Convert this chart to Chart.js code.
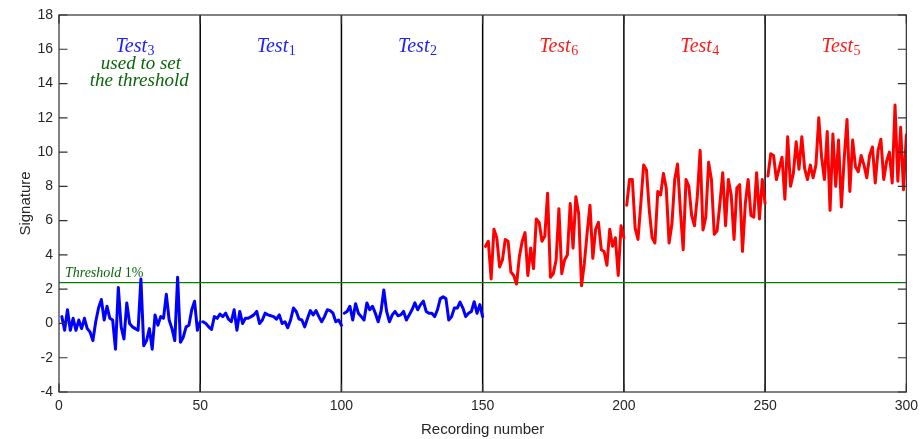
<!DOCTYPE html>
<html>
<head>
<meta charset="utf-8">
<script src="https://cdn.jsdelivr.net/npm/chart.js@4.4.1/dist/chart.umd.min.js"></script>
<style>
  html, body { margin: 0; padding: 0; background: #fff; }
  canvas { display: block; }
</style>
</head>
<body>
<canvas id="c" width="924" height="439"></canvas>
<script>
// ---------------- data ----------------
const xTicks = [0, 50, 100, 150, 200, 250, 300];
const yTicks = [-4, -2, 0, 2, 4, 6, 8, 10, 12, 14, 16, 18];
const separators = [50, 100, 150, 200, 250];
const threshold = 2.38;

const test3 = [0.4, -0.4, 0.8, -0.4, 0.3, -0.4, 0.2, -0.3, 0.3, -0.3,
  -0.5, -1.0, 0.1, 0.9, 1.4, 0.2, 1.0, 0.3, 0.2, -1.5,
  2.1, -0.2, -0.9, 1.2, 0.0, -0.2, -0.3, -0.4, 2.6, -1.3,
  -1.0, -0.3, -1.5, 0.5, -0.1, 0.4, 0.3, 1.7, 0.2, -0.3,
  -1.0, 2.7, -1.1, -0.8, -0.2, -0.1, 0.8, 1.3, -0.4, 0.1];
const test1 = [0.1, 0.0, -0.2, -0.35, 0.4, 0.3, 0.55, 0.4, 0.6, 0.25,
  0.1, 0.8, -0.4, 0.7, 0.0, 0.3, 0.3, 0.4, 0.5, 0.7,
  0.0, 0.2, 0.6, 0.5, 0.45, 0.4, 0.25, 0.5, 0.0, 0.1,
  -0.25, 0.2, 0.9, 0.7, 0.25, 0.2, -0.2, 0.3, 0.75, 0.5,
  0.75, 0.4, 0.1, 0.4, 0.8, 0.75, 0.6, 0.1, 0.2, -0.1];
const test2 = [0.6, 0.7, 1.0, 0.2, 1.15, 0.6, 0.4, 0.2, 1.2, 0.8,
  1.0, 0.6, 0.1, 0.7, 1.95, 0.7, 0.1, 0.5, 0.7, 0.45,
  0.5, 0.7, 0.2, 0.5, 0.8, 1.2, 0.8, 1.1, 1.3, 0.7,
  0.6, 0.6, 0.4, 0.8, 1.45, 1.55, 1.45, 0.2, 0.4, 0.9,
  0.9, 1.25, 0.9, 0.4, 0.6, 0.7, 1.27, 0.6, 1.1, 0.4];
const test6 = [4.5, 4.8, 2.6, 5.5, 5.0, 3.3, 3.7, 4.9, 4.8, 3.0,
  2.8, 2.3, 3.9, 4.8, 5.3, 2.8, 4.4, 3.2, 6.1, 5.9,
  4.8, 5.1, 7.6, 2.7, 2.9, 3.7, 6.7, 2.9, 3.7, 4.0,
  7.0, 4.4, 7.4, 6.4, 2.2, 3.5, 5.3, 6.9, 3.8, 5.5,
  5.9, 4.3, 4.2, 3.4, 5.5, 4.5, 5.0, 2.8, 5.7, 5.0];
const test4 = [6.9, 8.4, 8.4, 5.55, 4.9, 7.0, 9.25, 8.95, 6.6, 5.0,
  4.7, 7.7, 7.5, 8.75, 7.9, 4.7, 5.8, 8.4, 9.3, 6.6,
  4.3, 8.4, 8.0, 6.3, 5.7, 7.4, 10.1, 5.45, 6.2, 9.4,
  8.4, 5.2, 5.4, 7.0, 8.8, 5.7, 8.4, 7.5, 4.9, 7.9,
  8.1, 4.2, 7.0, 8.4, 6.3, 6.2, 8.8, 6.1, 8.4, 7.0];
const test5 = [8.6, 9.9, 9.8, 8.4, 9.05, 9.7, 7.25, 10.9, 8.0, 8.75,
  10.6, 9.0, 10.9, 9.05, 8.4, 9.25, 8.5, 9.25, 12.0, 9.7,
  8.4, 11.2, 6.6, 11.05, 8.0, 10.7, 6.8, 9.6, 11.9, 7.7,
  10.7, 9.15, 8.85, 9.8, 9.25, 8.5, 9.8, 10.3, 8.2, 10.1,
  10.75, 8.4, 9.45, 10.0, 8.2, 12.75, 8.3, 11.45, 7.8, 11.0];

// test order along the recording axis, start recording number, colour
const segments = [
  { name: 'Test', sub: '3', vals: test3, start: 1,   color: '#0000ff' },
  { name: 'Test', sub: '1', vals: test1, start: 51,  color: '#0000ff' },
  { name: 'Test', sub: '2', vals: test2, start: 101, color: '#0000ff' },
  { name: 'Test', sub: '6', vals: test6, start: 151, color: '#ff0000' },
  { name: 'Test', sub: '4', vals: test4, start: 201, color: '#ff0000' },
  { name: 'Test', sub: '5', vals: test5, start: 251, color: '#ff0000' }
];

const textColors = { blue: '#2020ff', red: '#ff1a1a', green: '#0b650b' };

// ---------------- chart ----------------
const datasets = segments.map(s => ({
  data: s.vals.map((v, i) => ({ x: s.start + i, y: v })),
  borderColor: s.color,
  borderWidth: 3,
  borderJoinStyle: 'round',
  borderCapStyle: 'round',
  pointRadius: 0,
  tension: 0,
  fill: false,
  order: 1
}));
datasets.push({
  data: [{ x: xTicks[0], y: threshold }, { x: xTicks[xTicks.length - 1], y: threshold }],
  borderColor: '#008000',
  borderWidth: 1.4,
  pointRadius: 0,
  fill: false,
  order: 5
});

const sans = 'Liberation Sans, Arial, Helvetica, sans-serif';
const serif = 'Liberation Serif, Times New Roman, serif';

const decor = {
  id: 'decor',
  beforeDatasetsDraw(chart) {
    const { ctx, chartArea: a, scales: { x } } = chart;
    ctx.save();
    ctx.strokeStyle = '#000';
    ctx.lineWidth = 1.5;
    separators.forEach(v => {
      const px = x.getPixelForValue(v);
      ctx.beginPath();
      ctx.moveTo(px, a.top);
      ctx.lineTo(px, a.bottom);
      ctx.stroke();
    });
    ctx.restore();
  },
  afterDatasetsDraw(chart) {
    const { ctx, chartArea: a, scales: { x, y } } = chart;
    ctx.save();
    // frame
    ctx.strokeStyle = '#303030';
    ctx.lineWidth = 1.2;
    ctx.strokeRect(a.left, a.top, a.right - a.left, a.bottom - a.top);
    // inward ticks
    const tl = 8.5;
    ctx.beginPath();
    yTicks.forEach(v => {
      const py = y.getPixelForValue(v);
      ctx.moveTo(a.left, py); ctx.lineTo(a.left + tl, py);
      ctx.moveTo(a.right, py); ctx.lineTo(a.right - tl, py);
    });
    xTicks.forEach(v => {
      const px = x.getPixelForValue(v);
      ctx.moveTo(px, a.bottom); ctx.lineTo(px, a.bottom - tl);
      ctx.moveTo(px, a.top); ctx.lineTo(px, a.top + tl);
    });
    ctx.stroke();

    // test labels
    ctx.textBaseline = 'alphabetic';
    ctx.textAlign = 'left';
    segments.forEach((s, i) => {
      const px = x.getPixelForValue(s.start - 1 + 20);
      const py = y.getPixelForValue(15.85);
      ctx.fillStyle = s.color === '#0000ff' ? textColors.blue : textColors.red;
      ctx.font = 'italic 20px ' + serif;
      ctx.fillText(s.name, px, py);
      const w = ctx.measureText(s.name).width;
      ctx.font = '14px ' + serif;
      ctx.fillText(s.sub, px + w + 0.5, py + 3.5);
    });
    // notes for Test3
    ctx.textAlign = 'center';
    ctx.fillStyle = textColors.green;
    ctx.font = 'italic 19px ' + serif;
    ctx.fillText('used to set', x.getPixelForValue(29), y.getPixelForValue(14.85));
    ctx.fillText('the threshold', x.getPixelForValue(28.4), y.getPixelForValue(13.85));
    // threshold label
    ctx.textAlign = 'left';
    ctx.font = 'italic 14px ' + serif;
    const tx = x.getPixelForValue(2.1), ty = y.getPixelForValue(2.72);
    ctx.fillText('Threshold', tx, ty);
    const tw = ctx.measureText('Threshold ').width;
    ctx.font = '14px ' + serif;
    ctx.fillText('1%', tx + tw, ty);
    ctx.restore();
  }
};

new Chart(document.getElementById('c'), {
  type: 'line',
  data: { datasets },
  options: {
    responsive: false,
    animation: false,
    devicePixelRatio: 1,
    layout: { padding: { top: 15, right: 16, left: 0, bottom: 0 } },
    plugins: { legend: { display: false }, tooltip: { enabled: false } },
    scales: {
      x: {
        type: 'linear',
        min: xTicks[0], max: xTicks[xTicks.length - 1],
        afterBuildTicks: s => { s.ticks = xTicks.map(v => ({ value: v })); },
        afterFit: s => { s.height = 47; },
        grid: { display: false, drawTicks: false },
        border: { display: false },
        ticks: { color: '#262626', font: { family: sans, size: 14 }, padding: 6, maxRotation: 0, autoSkip: false },
        title: { display: true, text: 'Recording number', color: '#262626', font: { family: sans, size: 15 }, padding: { top: 2.5, bottom: 0 } }
      },
      y: {
        type: 'linear',
        min: yTicks[0], max: yTicks[yTicks.length - 1],
        afterBuildTicks: s => { s.ticks = yTicks.map(v => ({ value: v })); },
        afterFit: s => { s.width = 59; },
        grid: { display: false, drawTicks: false },
        border: { display: false },
        ticks: { color: '#262626', font: { family: sans, size: 14 }, padding: 6, autoSkip: false },
        title: { display: true, text: 'Signature', color: '#262626', font: { family: sans, size: 15 }, padding: { top: 17, bottom: 0 } }
      }
    }
  },
  plugins: [decor]
});
</script>
</body>
</html>
